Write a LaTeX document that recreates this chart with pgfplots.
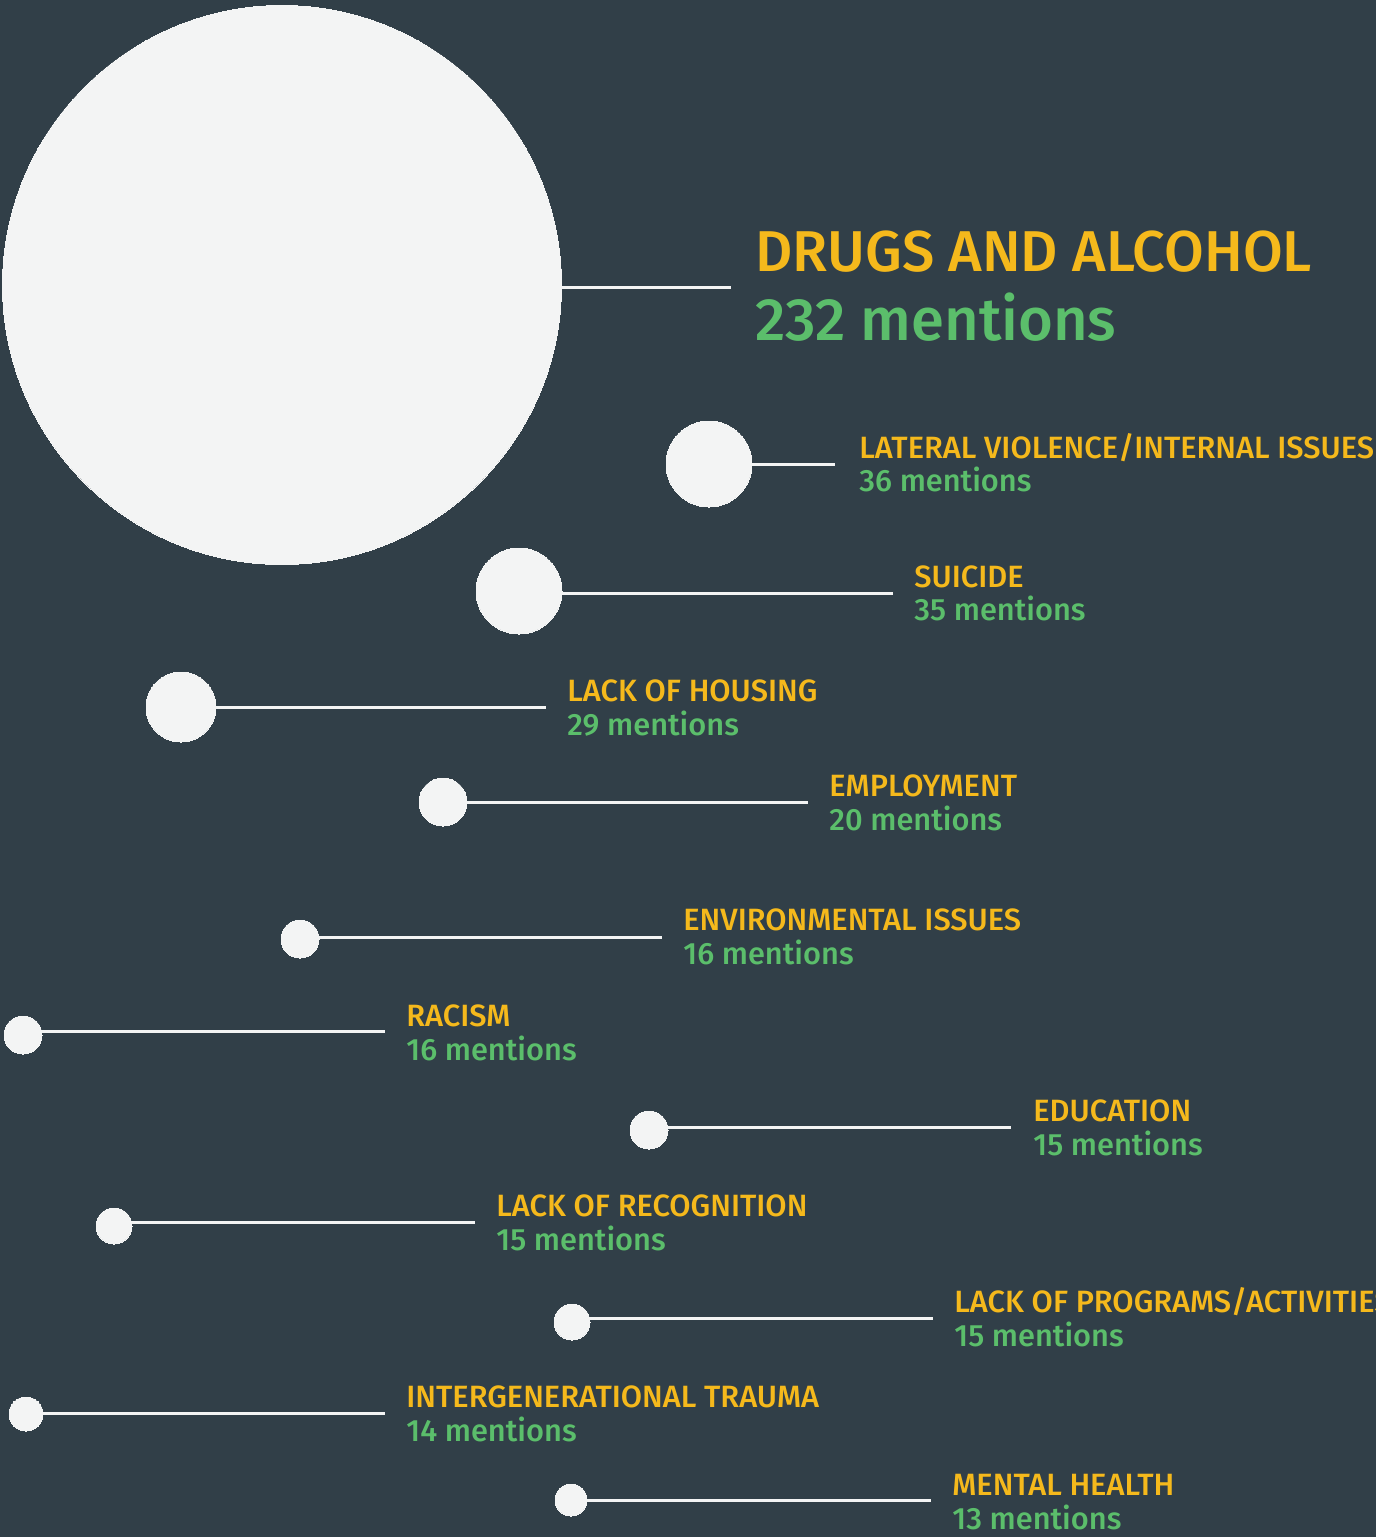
\documentclass[border=0pt]{standalone}
\usepackage{pgfplots}
\pgfplotsset{compat=1.18}
\usepackage{fontspec}
\setmainfont{Fira Sans}[UprightFont=* Medium, BoldFont=* SemiBold]
\definecolor{bg}{HTML}{313F48}
\definecolor{ylw}{HTML}{F5B91C}
\definecolor{grn}{HTML}{5BBE6B}
\definecolor{circ}{HTML}{F3F4F4}
\pgfplotstableread{
x y r
282 285 279.5
709 464 43
519 591 43
181 707 35
443 802 24
300 939 19
23 1035 19
649 1130 19
114 1226 18
572 1322 18
26 1414 17
571 1500 16
}\bubbles
\begin{document}
\begin{tikzpicture}
\begin{axis}[
  width=688pt, height=768.5pt, scale only axis,
  xmin=0, xmax=1376, ymin=0, ymax=1537, y dir=reverse,
  axis lines=none, ticks=none,
  axis background/.style={fill=bg},
  clip=false,
]
\addplot[draw=circ, line width=1.5pt] coordinates {(540,287) (731,287)};
\addplot[draw=circ, line width=1.5pt] coordinates {(709,464) (835,464)};
\addplot[draw=circ, line width=1.5pt] coordinates {(519,593) (893,593)};
\addplot[draw=circ, line width=1.5pt] coordinates {(181,707) (546,707)};
\addplot[draw=circ, line width=1.5pt] coordinates {(443,802) (808,802)};
\addplot[draw=circ, line width=1.5pt] coordinates {(300,937) (662,937)};
\addplot[draw=circ, line width=1.5pt] coordinates {(23,1031) (385,1031)};
\addplot[draw=circ, line width=1.5pt] coordinates {(649,1127) (1011,1127)};
\addplot[draw=circ, line width=1.5pt] coordinates {(114,1222) (475,1222)};
\addplot[draw=circ, line width=1.5pt] coordinates {(572,1318) (933,1318)};
\addplot[draw=circ, line width=1.5pt] coordinates {(26,1413) (385,1413)};
\addplot[draw=circ, line width=1.5pt] coordinates {(571,1500) (931,1500)};
\addplot[scatter, only marks, mark=*,
  mark options={draw=circ, fill=circ, line width=0pt},
  scatter/use mapped color={draw=circ, fill=circ},
  visualization depends on={\thisrow{r}\as\rad},
  scatter/@pre marker code/.code={%
    \pgfmathsetmacro\ms{0.5*\rad}%
    \scope[mark size=\ms pt, fill=circ, draw=circ]},
  scatter/@post marker code/.code={\endscope}]
  table[x=x, y=y] {\bubbles};
\tikzset{lab/.style={anchor=base west, inner sep=0pt, font=\fontsize{15.4}{18}\selectfont}}
\node[lab, ylw, font=\fontsize{28.8}{32}\selectfont] at (axis cs:755,271) {DRUGS AND ALCOHOL};
\node[lab, grn, font=\fontsize{29.9}{34}\selectfont] at (axis cs:755,340) {232 mentions};
\node[lab, ylw] at (axis cs:859,458) {LATERAL VIOLENCE/INTERNAL ISSUES};
\node[lab, grn] at (axis cs:859,491) {36 mentions};
\node[lab, ylw] at (axis cs:914,587) {SUICIDE};
\node[lab, grn] at (axis cs:914,620) {35 mentions};
\node[lab, ylw] at (axis cs:567,701) {LACK OF HOUSING};
\node[lab, grn] at (axis cs:567,735) {29 mentions};
\node[lab, ylw] at (axis cs:829,796) {EMPLOYMENT};
\node[lab, grn] at (axis cs:829,830) {20 mentions};
\node[lab, ylw] at (axis cs:683,930) {ENVIRONMENTAL ISSUES};
\node[lab, grn] at (axis cs:683,964) {16 mentions};
\node[lab, ylw] at (axis cs:406,1026) {RACISM};
\node[lab, grn] at (axis cs:406,1060) {16 mentions};
\node[lab, ylw] at (axis cs:1033,1121) {EDUCATION};
\node[lab, grn] at (axis cs:1033,1155) {15 mentions};
\node[lab, ylw] at (axis cs:496,1216) {LACK OF RECOGNITION};
\node[lab, grn] at (axis cs:496,1250) {15 mentions};
\node[lab, ylw] at (axis cs:954,1312) {LACK OF PROGRAMS/ACTIVITIES};
\node[lab, grn] at (axis cs:954,1346) {15 mentions};
\node[lab, ylw] at (axis cs:406,1407) {INTERGENERATIONAL TRAUMA};
\node[lab, grn] at (axis cs:406,1441) {14 mentions};
\node[lab, ylw] at (axis cs:952,1495) {MENTAL HEALTH};
\node[lab, grn] at (axis cs:952,1529) {13 mentions};
\end{axis}
\pgfresetboundingbox
\path[use as bounding box] (0,0) rectangle (688pt,768.5pt);
\end{tikzpicture}
\end{document}
